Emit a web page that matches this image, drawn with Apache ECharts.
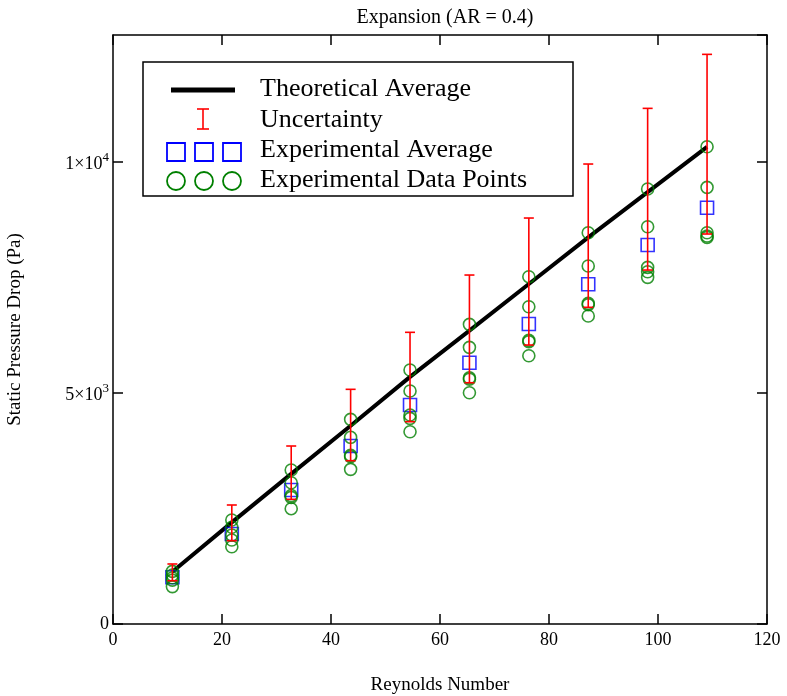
<!DOCTYPE html>
<html>
<head>
<meta charset="utf-8">
<script src="https://cdn.jsdelivr.net/npm/echarts@6/dist/echarts.min.js"></script>
<style>html,body{margin:0;padding:0;background:#fff;}#c{width:787px;height:696px;}</style>
</head>
<body>
<div id="c"></div>
<script>
// ---- data ----
var reynolds = [10.9, 21.8, 32.7, 43.6, 54.5, 65.4, 76.3, 87.2, 98.1, 109.0];
var theoretical = [1130, 2200, 3250, 4290, 5350, 6350, 7360, 8370, 9350, 10330];
var expAverage = [1011, 1948, 2900, 3853, 4740, 5656, 6494, 7353, 8203, 9011];
var uncertaintyHigh = [1299, 2576, 3853, 5080, 6314, 7554, 8788, 9957, 11162, 12331];
var uncertaintyLow = [937, 1803, 2699, 3535, 4379, 5223, 6039, 6855, 7662, 8442];
var expPoints = [
  [1140, 1060, 1000, 950, 810],
  [2251, 2093, 1926, 1818, 1673],
  [3333, 3058, 2780, 2740, 2496],
  [4430, 4041, 3650, 3620, 3348],
  [5498, 5043, 4524, 4452, 4162],
  [6487, 5989, 5330, 5300, 5006],
  [7518, 6868, 6140, 6110, 5807],
  [8470, 7749, 6940, 6910, 6667],
  [9416, 8600, 7720, 7626, 7504],
  [10331, 9452, 8470, 8398, 8369]
];
var xTicks = [0, 20, 40, 60, 80, 100, 120];
var yTickLabels = {0: '0', 5000: '{m|5×10}{s|3}', 10000: '{m|1×10}{s|4}'};
var legendNames = ['Theoretical Average', 'Uncertainty', 'Experimental Average', 'Experimental Data Points'];

// ---- build ----
var F = 'Liberation Serif';
var lineData = reynolds.map(function (x, i) { return [x, theoretical[i]]; });
var avgData = reynolds.map(function (x, i) { return [x, expAverage[i]]; });
var errData = reynolds.map(function (x, i) { return [x, uncertaintyLow[i], uncertaintyHigh[i]]; });
var ptData = [];
reynolds.forEach(function (x, i) { expPoints[i].forEach(function (v) { ptData.push([x, v]); }); });

var chart = echarts.init(document.getElementById('c'), null, {renderer: 'canvas'});
var axisCommon = {
  type: 'value',
  axisLine: {show: true, onZero: false, lineStyle: {color: '#000', width: 1.5}},
  axisTick: {show: true, inside: true, length: 10, lineStyle: {color: '#000', width: 1.5}},
  splitLine: {show: false}
};
var lx = 143, ly = 62;
var legFont = '26px "Liberation Serif"';
var option = {
  backgroundColor: '#fff',
  animation: false,
  textStyle: {fontFamily: F},
  title: {
    text: 'Expansion (AR = 0.4)', left: 440, top: 3, textAlign: 'center',
    textStyle: {fontFamily: F, fontSize: 20, fontWeight: 'normal', color: '#000'}
  },
  grid: {left: 113, right: 20, top: 35, bottom: 72, containLabel: false, outerBoundsMode: 'none'},
  xAxis: [
    Object.assign({}, axisCommon, {
      position: 'bottom', min: 0, max: 120, interval: 20,
      name: 'Reynolds Number', nameLocation: 'middle', nameGap: 52,
      nameTextStyle: {fontFamily: F, fontSize: 19, color: '#000'},
      axisLabel: {fontFamily: F, fontSize: 18, color: '#000', margin: 7}
    }),
    Object.assign({}, axisCommon, {
      position: 'top', min: 0, max: 120, interval: 20, axisLabel: {show: false}
    })
  ],
  yAxis: [
    Object.assign({}, axisCommon, {
      position: 'left', min: 0, max: 12750, interval: 5000,
      name: 'Static Pressure Drop (Pa)', nameLocation: 'middle', nameGap: 88,
      nameTextStyle: {fontFamily: F, fontSize: 19, color: '#000'},
      axisLabel: {
        fontFamily: F, fontSize: 18, color: '#000', margin: 4, showMaxLabel: false,
        formatter: function (v) { return yTickLabels[v] !== undefined ? yTickLabels[v] : ''; },
        rich: {
          m: {fontFamily: F, fontSize: 18, color: '#000', lineHeight: 22, verticalAlign: 'bottom'},
          s: {fontFamily: F, fontSize: 13, color: '#000', lineHeight: 22, verticalAlign: 'top', padding: [0, 0, 8, 0]}
        }
      }
    }),
    Object.assign({}, axisCommon, {
      position: 'right', min: 0, max: 12750, interval: 5000, axisLabel: {show: false}
    })
  ],
  series: [
    {
      name: legendNames[0], type: 'line', data: lineData, showSymbol: false, symbol: 'none',
      lineStyle: {color: '#000', width: 4}, z: 2
    },
    {
      name: legendNames[2], type: 'scatter', data: avgData, symbol: 'rect', symbolSize: 13,
      itemStyle: {color: 'rgba(0,0,0,0)', borderColor: '#0000ff', borderWidth: 1.6}, z: 3
    },
    {
      name: legendNames[3], type: 'scatter', data: ptData, symbol: 'circle', symbolSize: 12,
      itemStyle: {color: 'rgba(0,0,0,0)', borderColor: '#008000', borderWidth: 1.6}, z: 4
    },
    {
      name: legendNames[1], type: 'custom', data: errData, z: 5,
      renderItem: function (params, api) {
        var x = api.value(0);
        var lo = api.coord([x, api.value(1)]);
        var hi = api.coord([x, api.value(2)]);
        var w = 5;
        var st = {stroke: '#ff0000', lineWidth: 1.6, fill: null};
        return {
          type: 'group', children: [
            {type: 'line', shape: {x1: lo[0], y1: lo[1], x2: hi[0], y2: hi[1]}, style: st},
            {type: 'line', shape: {x1: hi[0] - w, y1: hi[1], x2: hi[0] + w, y2: hi[1]}, style: st},
            {type: 'line', shape: {x1: lo[0] - w, y1: lo[1], x2: lo[0] + w, y2: lo[1]}, style: st}
          ]
        };
      }
    }
  ],
  graphic: [
    {type: 'rect', shape: {x: lx, y: ly, width: 430, height: 134}, style: {fill: '#fff', stroke: '#000', lineWidth: 1.5}, z: 10},
    {type: 'line', shape: {x1: 171, y1: 90, x2: 235, y2: 90}, style: {stroke: '#000', lineWidth: 5}, z: 11},
    {type: 'line', shape: {x1: 203, y1: 109, x2: 203, y2: 129}, style: {stroke: '#ff0000', lineWidth: 1.6}, z: 11},
    {type: 'line', shape: {x1: 197, y1: 109, x2: 209, y2: 109}, style: {stroke: '#ff0000', lineWidth: 1.6}, z: 11},
    {type: 'line', shape: {x1: 197, y1: 129, x2: 209, y2: 129}, style: {stroke: '#ff0000', lineWidth: 1.6}, z: 11},
    {type: 'rect', shape: {x: 167, y: 143, width: 18, height: 18}, style: {fill: null, stroke: '#0000ff', lineWidth: 1.8}, z: 11},
    {type: 'rect', shape: {x: 195, y: 143, width: 18, height: 18}, style: {fill: null, stroke: '#0000ff', lineWidth: 1.8}, z: 11},
    {type: 'rect', shape: {x: 223, y: 143, width: 18, height: 18}, style: {fill: null, stroke: '#0000ff', lineWidth: 1.8}, z: 11},
    {type: 'circle', shape: {cx: 176, cy: 181, r: 9}, style: {fill: null, stroke: '#008000', lineWidth: 1.8}, z: 11},
    {type: 'circle', shape: {cx: 204, cy: 181, r: 9}, style: {fill: null, stroke: '#008000', lineWidth: 1.8}, z: 11},
    {type: 'circle', shape: {cx: 232, cy: 181, r: 9}, style: {fill: null, stroke: '#008000', lineWidth: 1.8}, z: 11},
    {type: 'text', x: 260, y: 89, style: {text: legendNames[0], font: legFont, fill: '#000', verticalAlign: 'middle'}, z: 11},
    {type: 'text', x: 260, y: 120, style: {text: legendNames[1], font: legFont, fill: '#000', verticalAlign: 'middle'}, z: 11},
    {type: 'text', x: 260, y: 150, style: {text: legendNames[2], font: legFont, fill: '#000', verticalAlign: 'middle'}, z: 11},
    {type: 'text', x: 260, y: 180, style: {text: legendNames[3], font: legFont, fill: '#000', verticalAlign: 'middle'}, z: 11}
  ]
};
chart.setOption(option);
</script>
</body>
</html>
